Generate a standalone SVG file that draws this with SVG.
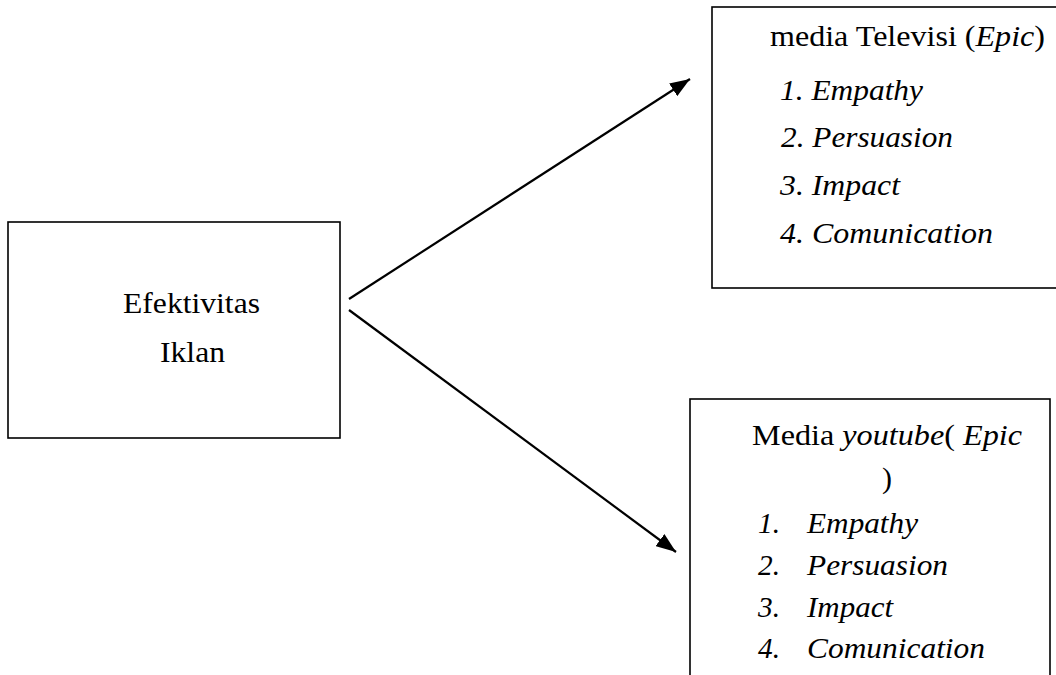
<svg xmlns="http://www.w3.org/2000/svg" width="1056" height="675" viewBox="0 0 1056 675">
<style>
.box{fill:#fff;stroke:#000;stroke-width:1.6}
.t{font-size:30px;fill:#000}
.i{font-style:italic}
.con{stroke:#000;stroke-width:2.2;fill:none}
</style>
<defs>
<marker id="arr" viewBox="0 0 20 15" refX="20" refY="7.5" markerWidth="20" markerHeight="15" markerUnits="userSpaceOnUse" orient="auto">
<path d="M0,0 L20,7.5 L0,15 z" fill="#000"/>
</marker>
</defs>
<rect width="1056" height="675" fill="#fff"/>
<g font-family="Liberation Serif">
<g id="efektivitas">
<rect class="box" x="8" y="222" width="332" height="216"/>
<text class="t" x="123" y="313" textLength="137" lengthAdjust="spacingAndGlyphs">Efektivitas</text>
<text class="t" x="160" y="362" textLength="65" lengthAdjust="spacingAndGlyphs">Iklan</text>
</g>
<g id="televisi">
<rect class="box" x="712" y="7" width="400" height="281"/>
<text class="t" x="770" y="46" textLength="275" lengthAdjust="spacingAndGlyphs">media Televisi (<tspan class="i">Epic</tspan>)</text>
<text class="t i" x="780" y="100" textLength="143" lengthAdjust="spacingAndGlyphs">1. Empathy</text>
<text class="t i" x="781" y="147" textLength="172" lengthAdjust="spacingAndGlyphs">2. Persuasion</text>
<text class="t i" x="780" y="195" textLength="120" lengthAdjust="spacingAndGlyphs">3. Impact</text>
<text class="t i" x="780" y="243" textLength="213" lengthAdjust="spacingAndGlyphs">4. Comunication</text>
</g>
<g id="youtube">
<rect class="box" x="690" y="399" width="360" height="300"/>
<text class="t" x="752" y="445" textLength="270" lengthAdjust="spacingAndGlyphs">Media <tspan class="i">youtube</tspan>( <tspan class="i">Epic</tspan></text>
<text class="t" x="882" y="488">)</text>
<text class="t i" x="758" y="533" textLength="22" lengthAdjust="spacingAndGlyphs">1.</text>
<text class="t i" x="807" y="533" textLength="111" lengthAdjust="spacingAndGlyphs">Empathy</text>
<text class="t i" x="758" y="575" textLength="22" lengthAdjust="spacingAndGlyphs">2.</text>
<text class="t i" x="807" y="575" textLength="141" lengthAdjust="spacingAndGlyphs">Persuasion</text>
<text class="t i" x="758" y="617" textLength="22" lengthAdjust="spacingAndGlyphs">3.</text>
<text class="t i" x="807" y="617" textLength="86" lengthAdjust="spacingAndGlyphs">Impact</text>
<text class="t i" x="758" y="658" textLength="22" lengthAdjust="spacingAndGlyphs">4.</text>
<text class="t i" x="807" y="658" textLength="178" lengthAdjust="spacingAndGlyphs">Comunication</text>
</g>
</g>
<g id="connectors">
<line class="con" x1="349" y1="299" x2="690" y2="79" marker-end="url(#arr)"/>
<line class="con" x1="349" y1="310" x2="676" y2="552" marker-end="url(#arr)"/>
</g>
</svg>
